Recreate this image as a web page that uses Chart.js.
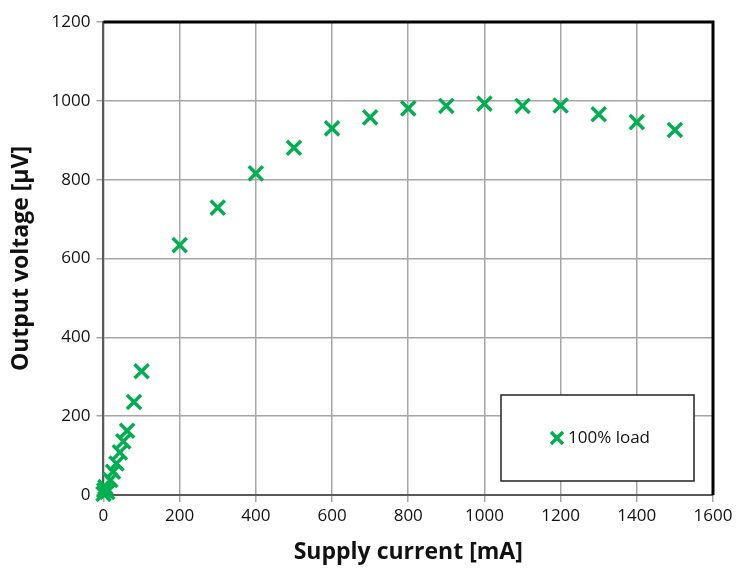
<!DOCTYPE html>
<html lang="en">
<head>
<meta charset="UTF-8">
<title>Output voltage vs supply current</title>
<script src="https://cdn.jsdelivr.net/npm/chart.js@4"></script>
<style>
  html, body { margin: 0; padding: 0; background: #fff; }
  #wrap { width: 737px; height: 570px; }
</style>
</head>
<body>
<div id="wrap"><canvas id="chart"></canvas></div>
<script>
// supply current [mA]
const currents = [0, 2, 5, 10, 18, 25, 34, 43, 52, 62, 80, 100,
  200, 300, 400, 500, 600, 700, 800, 900, 1000, 1100, 1200, 1300, 1400, 1500];
// output voltage [µV]
const voltages = [3, 12, 20, 8, 38, 59, 80, 108, 136, 163, 236, 314,
  634, 729, 816, 881, 930, 958, 981, 987, 993, 987, 988, 966, 946, 926];
const xTicks = [0, 200, 400, 600, 800, 1000, 1200, 1400, 1600];
const yTicks = [0, 200, 400, 600, 800, 1000, 1200];
const seriesName = '100% load';

const green = '#00B050';
const FONT = 'Open Sans, sans-serif';

// top/right frame and the boxed legend inside the plot
const frameAndLegend = {
  id: 'frameAndLegend',
  afterDraw(chart) {
    const { ctx, chartArea: a } = chart;
    ctx.save();
    ctx.strokeStyle = '#000';
    ctx.lineWidth = 3;
    ctx.beginPath();
    ctx.moveTo(a.left, a.top);
    ctx.lineTo(a.right, a.top);
    ctx.lineTo(a.right, a.bottom);
    ctx.stroke();

    // legend box
    const bx = 501, by = 395, bw = 193, bh = 86;
    ctx.fillStyle = '#fff';
    ctx.fillRect(bx, by, bw, bh);
    ctx.lineWidth = 1.5;
    ctx.strokeStyle = '#222';
    ctx.strokeRect(bx, by, bw, bh);
    const mx = 557, my = by + bh / 2;
    ctx.strokeStyle = green;
    ctx.lineWidth = 3.5;
    ctx.beginPath();
    ctx.moveTo(mx - 6, my - 6); ctx.lineTo(mx + 6, my + 6);
    ctx.moveTo(mx + 6, my - 6); ctx.lineTo(mx - 6, my + 6);
    ctx.stroke();
    ctx.fillStyle = '#111';
    ctx.font = '17px ' + FONT;
    ctx.textBaseline = 'middle';
    ctx.fillText(seriesName, mx + 11, my);
    ctx.restore();
  }
};

new Chart(document.getElementById('chart'), {
  type: 'scatter',
  data: {
    datasets: [{
      label: seriesName,
      data: currents.map((x, i) => ({ x, y: voltages[i] })),
      clip: false,
      pointStyle: 'crossRot',
      pointRadius: 10,
      pointHoverRadius: 10,
      pointBorderWidth: 3.5,
      borderColor: green,
      backgroundColor: green
    }]
  },
  options: {
    responsive: true,
    maintainAspectRatio: false,
    animation: false,
    layout: { padding: { top: 22, right: 24, left: 4, bottom: 0 } },
    plugins: { legend: { display: false }, tooltip: { enabled: false } },
    scales: {
      x: {
        type: 'linear',
        min: 0, max: 1600,
        afterBuildTicks: s => { s.ticks = xTicks.map(v => ({ value: v })); },
        grid: { color: '#A6A6A6', lineWidth: 1.5, tickLength: 7 },
        border: { color: '#595959', width: 2 },
        ticks: { color: '#111', font: { family: FONT, size: 17 }, padding: 4, maxRotation: 0,
          callback: v => String(v) },
        title: { display: true, text: 'Supply current [mA]', color: '#111',
          font: { family: FONT, size: 23, weight: 'bold' }, padding: { top: 8 } }
      },
      y: {
        type: 'linear',
        min: 0, max: 1200,
        afterBuildTicks: s => { s.ticks = yTicks.map(v => ({ value: v })); },
        grid: { color: '#A6A6A6', lineWidth: 1.5, tickLength: 7 },
        border: { color: '#595959', width: 2 },
        ticks: { color: '#111', font: { family: FONT, size: 17 }, padding: 6,
          callback: v => String(v) },
        title: { display: true, text: 'Output voltage [µV]', color: '#111',
          font: { family: FONT, size: 23, weight: 'bold' }, padding: { bottom: 10 } }
      }
    }
  },
  plugins: [frameAndLegend]
});
</script>
</body>
</html>
